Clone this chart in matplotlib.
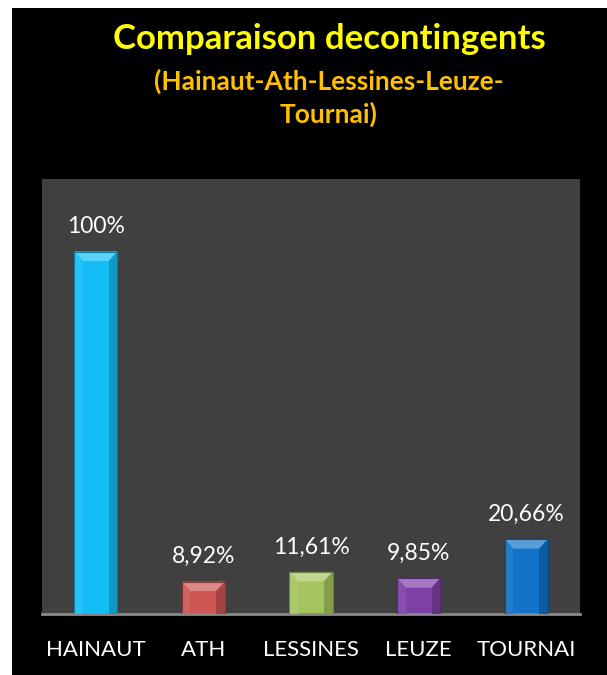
import numpy as np
import matplotlib.pyplot as plt
from matplotlib.patches import Polygon
from matplotlib.colors import to_rgb

#! datos
categorias = ['HAINAUT', 'ATH', 'LESSINES', 'LEUZE', 'TOURNAI']
valores = [100, 8.92, 11.61, 9.85, 20.66]
etiquetas = ['100%', '8,92%', '11,61%', '9,85%', '20,66%']
colores = ['#12BEF5', '#CD5552', '#A4C45E', '#7E3FA6', '#1273C8']


def mezclar(c, otro, t):
  c = np.array(to_rgb(c))
  return tuple(c + (np.array(to_rgb(otro)) - c) * t)


def main():
  fuente = ['Lato', 'DejaVu Sans']
  fig = plt.figure(figsize=(6.07, 6.75), dpi=100)
  fig.patch.set_facecolor('white')

  #* marco negro
  fondo = fig.add_axes([12/607, 0, 1 - 12/607, 1 - 8/675])
  fondo.set_facecolor('black')
  fondo.set_xticks([])
  fondo.set_yticks([])
  for s in fondo.spines.values():
    s.set_visible(False)

  ax = fig.add_axes([42/607, 61/675, 538/607, 435/675])
  ax.set_facecolor('#404040')
  ax.set_xlim(-0.5, len(categorias) - 0.5)
  ax.set_ylim(0, 120)
  for s in ['top', 'right', 'left']:
    ax.spines[s].set_visible(False)
  ax.spines['bottom'].set_color('#8a8a8a')
  ax.spines['bottom'].set_linewidth(2)
  ax.set_yticks([])
  x = np.arange(len(categorias))
  ax.set_xticks(x)
  ax.set_xticklabels(categorias, color='white', fontsize=16, family=fuente)
  ax.tick_params(axis='x', length=0, pad=19)

  ancho = 0.4
  barras = ax.bar(x, valores, width=ancho, color=colores, zorder=2)

  #* efecto biselado
  bx = 0.08
  by = 2.6
  for b, c in zip(barras, colores):
    x0, x1 = b.get_x(), b.get_x() + b.get_width()
    h = b.get_height()
    ax.add_patch(Polygon([(x0, h), (x1, h), (x1 - bx, h - by), (x0 + bx, h - by)],
                         closed=True, color=mezclar(c, 'white', 0.3), lw=0, zorder=3))
    ax.add_patch(Polygon([(x1, h), (x1, 0), (x1 - bx, 0), (x1 - bx, h - by)],
                         closed=True, color=mezclar(c, 'black', 0.2), lw=0, zorder=3))
    ax.add_patch(Polygon([(x0, h), (x0, 0), (x0 + bx, 0), (x0 + bx, h - by)],
                         closed=True, color=mezclar(c, 'white', 0.08), lw=0, zorder=3))
    ax.add_patch(Polygon([(x0, h), (x1, h), (x1, 0), (x0, 0)],
                         closed=True, fill=False, ec=mezclar(c, 'black', 0.35), lw=0.8, zorder=4))

  for xi, v, t in zip(x, valores, etiquetas):
    ax.text(xi, v + 4, t, ha='center', va='bottom', color='white', fontsize=16.5, family=fuente)

  #* titulos
  fig.text(0.542, 0.942, 'Comparaison decontingents', ha='center', va='center',
           color='#FFFF00', fontsize=25, fontweight='bold', family=fuente)
  fig.text(0.542, 0.879, '(Hainaut-Ath-Lessines-Leuze-', ha='center', va='center',
           color='#FFC000', fontsize=19, fontweight='bold', family=fuente)
  fig.text(0.542, 0.831, 'Tournai)', ha='center', va='center',
           color='#FFC000', fontsize=19, fontweight='bold', family=fuente)

  fig.savefig('out.png', dpi=100, facecolor=fig.get_facecolor())


if __name__ == "__main__":
  main()
